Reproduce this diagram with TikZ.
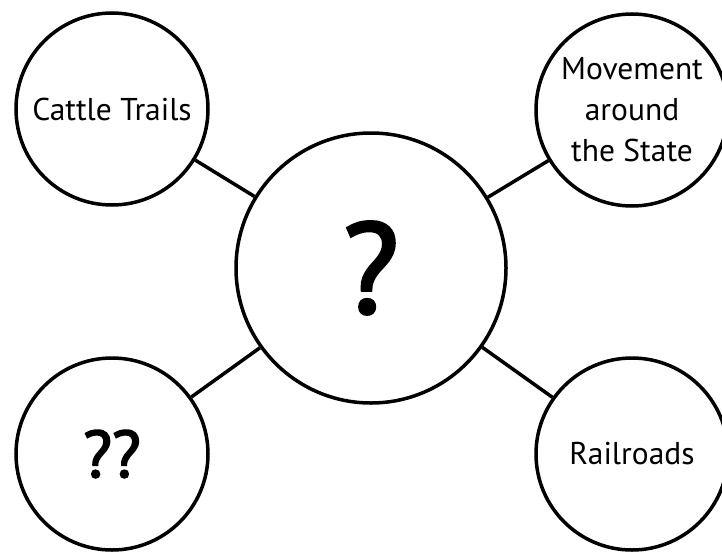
\documentclass[tikz,border=0pt]{standalone}
\usepackage{fontspec}
\setmainfont{PT Sans}
\newfontfamily\qfont[FakeBold=2.5]{PT Sans}
\begin{document}
\begin{tikzpicture}[x=1pt,y=-1pt,
  bubble/.style={draw=black,line width=3.5pt,circle,inner sep=0pt,minimum size=192pt,fill=white,align=center,
    font=\fontsize{31.5}{41}\selectfont},
  link/.style={line width=3.5pt}]
\useasboundingbox (0,0) rectangle (722,554);
\node[bubble,minimum size=270pt,font=\qfont\fontsize{128}{140}\selectfont] (c) at (371,268) {?};
\node[bubble] (tl) at (112,109) {Cattle Trails};
\node[bubble] (tr) at (632,110) {Movement\\around\\the State};
\node[bubble,font=\qfont\fontsize{66}{70}\selectfont] (bl) at (112,454) {??};
\node[bubble] (br) at (632,454) {Railroads};
\draw[link] (c) -- (tl);
\draw[link] (c) -- (tr);
\draw[link] (c) -- (bl);
\draw[link] (c) -- (br);
\end{tikzpicture}
\end{document}
